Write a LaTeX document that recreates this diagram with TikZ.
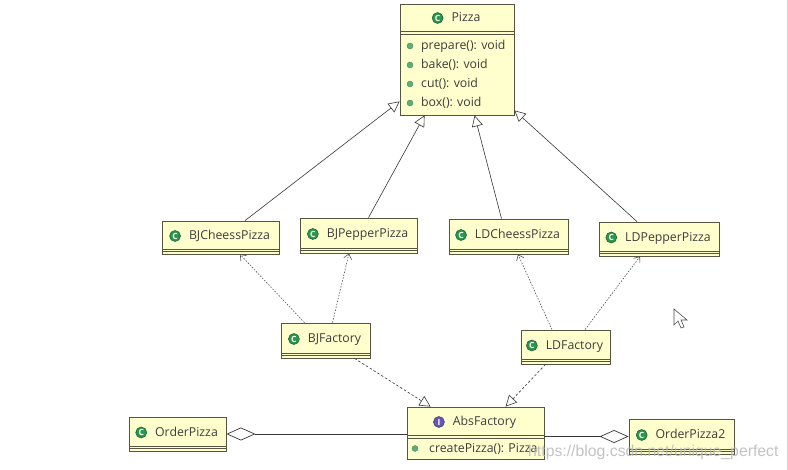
\documentclass[tikz,border=0pt]{standalone}
\usepackage{fontspec}
\setmainfont{Open Sans}
\newfontfamily\wmfont{Liberation Sans}
\usetikzlibrary{arrows.meta,positioning}
\definecolor{boxfill}{RGB}{255,255,206}
\definecolor{boxline}{RGB}{85,85,65}
\definecolor{txt}{RGB}{60,60,60}
\definecolor{icong}{RGB}{40,150,75}
\definecolor{iconp}{RGB}{105,85,185}
\definecolor{dotg}{RGB}{90,175,120}
\definecolor{linec}{RGB}{55,55,55}
\definecolor{depc}{RGB}{80,80,80}
\tikzset{
  umlbox/.style={draw=boxline, fill=boxfill, line width=0.8pt, inner sep=0pt},
  cls/.style={umlbox, path picture={
      \draw[boxline,line width=0.7pt] ([yshift=5pt]path picture bounding box.south west) -- ([yshift=5pt]path picture bounding box.south east);
      \draw[boxline,line width=0.7pt] ([yshift=2.5pt]path picture bounding box.south west) -- ([yshift=2.5pt]path picture bounding box.south east);}},
  ttl/.style={font=\fontsize{12.3}{14}\selectfont, text=txt, inner sep=0pt, text height=8pt, text depth=0pt},
  mtxt/.style={ttl, anchor=west},
  cicon/.style={circle, fill=icong, draw=icong!60!black, line width=0.5pt, text=white, font=\fontsize{8.5}{9}\selectfont\bfseries, inner sep=0pt, minimum size=11pt},
  iicon/.style={cicon, fill=iconp, draw=iconp!60!black},
  mdot/.style={circle, fill=dotg, draw=dotg!70!black, line width=0.3pt, inner sep=0pt, minimum size=6pt},
  gen/.style={draw=linec, line width=0.6pt, -{Triangle[open,length=11pt,width=11pt,fill=white]}},
  real/.style={gen, dash pattern=on 2.5pt off 2pt},
  dep/.style={draw=depc, line width=0.6pt, dash pattern=on 1.5pt off 1.5pt, -{Straight Barb[length=5pt,width=8pt]}},
  agg/.style={draw=linec, line width=0.7pt, {Diamond[open,length=29pt,width=13pt,fill=white]}-},
  wm/.style={font=\wmfont\fontsize{15.8}{17}\selectfont, text=gray!55, opacity=0.85, inner sep=0pt, anchor=west}
}
\begin{document}
\begin{tikzpicture}[x=1pt,y=-1pt]
\useasboundingbox (0,0) rectangle (788,470);
\fill[white] (0,0) rectangle (788,470);
\draw[gray!35, line width=0.8pt] (787.2,0) -- (787.2,470);

% Pizza
\node[umlbox, minimum width=114pt, minimum height=111pt] (pizza) at (457,59.5) {};
\draw[boxline,line width=0.7pt] ([yshift=-28pt]pizza.north west) -- ([yshift=-28pt]pizza.north east);
\draw[boxline,line width=0.7pt] ([yshift=-30.5pt]pizza.north west) -- ([yshift=-30.5pt]pizza.north east);
\node[ttl] (pizza-t) at (466,18) {Pizza};
\node[cicon, left=8pt of pizza-t] (pizza-i) {C};
\node[mdot] (pd1) at (410,46) {};
\node[mtxt] (pm1) at (421,46) {prepare(): void};
\node[mdot] (pd2) at (410,65) {};
\node[mtxt] (pm2) at (421,65) {bake(): void};
\node[mdot] (pd3) at (410,84) {};
\node[mtxt] (pm3) at (421,84) {cut(): void};
\node[mdot] (pd4) at (410,103) {};
\node[mtxt] (pm4) at (421,103) {box(): void};

% concrete pizzas
\node[cls, minimum width=117pt, minimum height=33pt] (bjc) at (220.5,237.5) {};
\node[ttl] (bjc-t) at (229.5,236) {BJCheessPizza};
\node[cicon, left=8pt of bjc-t] (bjc-i) {C};

\node[cls, minimum width=117pt, minimum height=35pt] (bjp) at (358.5,235.5) {};
\node[ttl] (bjp-t) at (367.5,234) {BJPepperPizza};
\node[cicon, left=8pt of bjp-t] (bjp-i) {C};

\node[cls, minimum width=119pt, minimum height=35pt] (ldc) at (508.5,236.5) {};
\node[ttl] (ldc-t) at (517.5,235) {LDCheessPizza};
\node[cicon, left=8pt of ldc-t] (ldc-i) {C};

\node[cls, minimum width=120pt, minimum height=34pt] (ldp) at (659,239) {};
\node[ttl] (ldp-t) at (668,237.5) {LDPepperPizza};
\node[cicon, left=8pt of ldp-t] (ldp-i) {C};

% factories
\node[cls, minimum width=89pt, minimum height=35pt] (bjf) at (325.5,340.5) {};
\node[ttl] (bjf-t) at (334.5,339) {BJFactory};
\node[cicon, left=8pt of bjf-t] (bjf-i) {C};

\node[cls, minimum width=89pt, minimum height=34pt] (ldf) at (565.5,347) {};
\node[ttl] (ldf-t) at (574.5,345.5) {LDFactory};
\node[cicon, left=8pt of ldf-t] (ldf-i) {C};

% AbsFactory
\node[umlbox, minimum width=137pt, minimum height=52pt] (abs) at (475.5,433) {};
\draw[boxline,line width=0.7pt] ([yshift=-29pt]abs.north west) -- ([yshift=-29pt]abs.north east);
\draw[boxline,line width=0.7pt] ([yshift=-31.5pt]abs.north west) -- ([yshift=-31.5pt]abs.north east);
\node[ttl] (abs-t) at (484.5,422) {AbsFactory};
\node[iicon, left=8pt of abs-t] (abs-i) {I};
\node[mdot] (ad1) at (415,448.5) {};
\node[mtxt] (am1) at (429,448.5) {createPizza(): Pizza};

% Order classes
\node[cls, minimum width=97pt, minimum height=34pt] (op) at (177.5,434) {};
\node[ttl] (op-t) at (186.5,432.5) {OrderPizza};
\node[cicon, left=8pt of op-t] (op-i) {C};

\node[cls, minimum width=105pt, minimum height=35pt] (op2) at (681.5,436.5) {};
\node[ttl] (op2-t) at (690.5,435) {OrderPizza2};
\node[cicon, left=8pt of op2-t] (op2-i) {C};

% generalizations
\draw[gen] ([xshift=24.5pt]bjc.north) -- ([yshift=14pt]pizza.south west);
\draw[gen] ([xshift=10pt]bjp.north) -- ([xshift=25pt]pizza.south west);
\draw[gen] ([xshift=-7pt]ldc.north) -- ([xshift=75pt]pizza.south west);
\draw[gen] ([xshift=-22pt]ldp.north) -- ([yshift=5pt]pizza.south east);

% dependencies
\draw[dep] ([xshift=-21pt]bjf.north) -- ([xshift=19.5pt]bjc.south);
\draw[dep] ([xshift=7pt]bjf.north) -- ([xshift=-9.5pt]bjp.south);
\draw[dep] ([xshift=-13.5pt]ldf.north) -- ([xshift=9.5pt]ldc.south);
\draw[dep] ([xshift=19.5pt]ldf.north) -- ([xshift=-19pt]ldp.south);

% realizations
\draw[real] ([xshift=29pt]bjf.south) -- ([xshift=24pt]abs.north west);
\draw[real] ([xshift=-20pt]ldf.south) -- ([xshift=99pt]abs.north west);

% aggregations
\draw[agg] (op.east) -- (op.east -| abs.west);
\draw[agg] (op2.west) -- (op2.west -| abs.east);

% watermark
\node[wm] (wm) at (528,452) {https://blog.csdn.net/unique\_perfect};

% mouse cursor
\draw[fill=white, draw=gray!60!black, line width=0.6pt, line join=miter]
  (674,309) -- (674,325) -- (678,321) -- (681,328) -- (684,327) -- (681,320) -- (687,320) -- cycle;
\end{tikzpicture}
\end{document}
